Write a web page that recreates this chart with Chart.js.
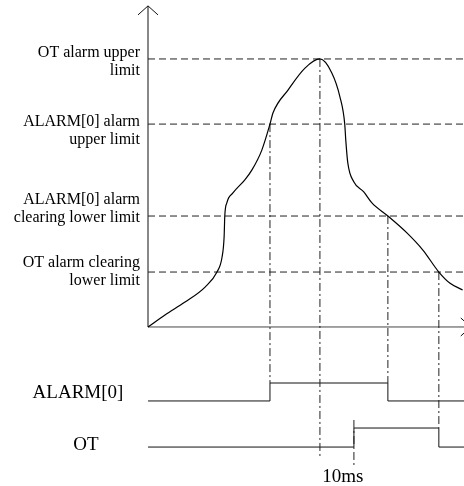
<!DOCTYPE html>
<html>
<head>
<meta charset="utf-8">
<script src="https://cdn.jsdelivr.net/npm/chart.js@4.4.0/dist/chart.umd.min.js"></script>
<style>
  html, body { margin: 0; padding: 0; background: #fff; }
  #wrap { width: 464px; height: 486px; }
</style>
</head>
<body>
<div id="wrap"><canvas id="timing" width="464" height="486"></canvas></div>
<script>
// Temperature curve, time in ms, value in arbitrary units (OT alarm upper limit = 100)
const curveTime = [0, 5, 10.9, 16.8, 20.3, 21.8, 22.4, 22.6, 23.2, 25, 28.5, 30.6, 33.5, 35.9, 36.8, 41.2, 46.2, 50.6,
                   54.1, 56.5, 57.9, 58.2, 58.8, 60.6, 63.5, 65.9, 70.6, 76.2, 80.9, 85.6, 88.8, 92.6];
const curveValue = [0, 4.5, 9.3, 14.9, 20.5, 26.1, 33.6, 41.4, 46.3, 50, 54.9, 58.6, 66, 75.7, 79.9, 88.4, 96.6, 100,
                    94.8, 85.8, 75.7, 69.8, 61.2, 54.1, 50.4, 46.3, 41.4, 35.1, 28.7, 20.5, 16.4, 13.8];

// Threshold levels and their labels
const levelValues = [100, 75.7, 41.4, 20.5];
const levelLabels = [
  ['OT alarm upper', 'limit'],
  ['ALARM[0] alarm', 'upper limit'],
  ['ALARM[0] alarm', 'clearing lower limit'],
  ['OT alarm clearing', 'lower limit']
];

// Event times (ms)
const alarmRise = 35.9;
const peakTime = 50.6;
const otRise = 60.6;
const alarmFall = 70.6;
const otFall = 85.6;

// Digital signal levels (drawn below the analog plot)
const alarmLevels = [-27.6, -20.9]; // low, high
const otLevels = [-44.8, -37.7];

// Signal step points
const alarmTimes = [0, alarmRise, alarmFall, 93];
const alarmStates = [0, 1, 0, 0];
const otTimes = [0, otRise, otFall, 93];
const otStates = [0, 1, 0, 0];

// Dash-dot guide lines: [time, top value, bottom value]
const guideTimes = [alarmRise, peakTime, alarmFall, otFall, otRise];
const guideTops = [75.7, 100, 41.4, 20.5, -34.7];
const guideBottoms = [-20.9, -48.5, -20.9, -37.7, -52.2];

const X_MIN = 0, X_MAX = 93;
const Y_MIN = -59.33, Y_MAX = 122.0;
const Y_AXIS_TOP = 119.8;
const X_AXIS_END = 95;

const ink = '#111';

function line(points, opts) {
  return Object.assign({
    data: points,
    borderColor: ink,
    borderWidth: 1,
    pointRadius: 0,
    fill: false,
    clip: false,
    tension: 0
  }, opts || {});
}

const datasets = [];

// Temperature curve
datasets.push(line(curveTime.map((t, i) => ({ x: t, y: curveValue[i] })), {
  borderColor: '#000', borderWidth: 1.2, cubicInterpolationMode: 'monotone'
}));

// Threshold dashed lines
levelValues.forEach(v => {
  datasets.push(line([{ x: X_MIN, y: v }, { x: X_MAX, y: v }], { borderDash: [7, 4], borderColor: '#222' }));
});

// Dash-dot guides
guideTimes.forEach((t, i) => {
  datasets.push(line([{ x: t, y: guideTops[i] }, { x: t, y: guideBottoms[i] }], { borderDash: [8, 3, 2, 3], borderColor: '#222' }));
});

// Axes with arrow heads
datasets.push(line([{ x: 0, y: 0 }, { x: 0, y: Y_AXIS_TOP }]));
datasets.push(line([{ x: -2.94, y: Y_AXIS_TOP - 3.36 }, { x: 0, y: Y_AXIS_TOP }, { x: 2.94, y: Y_AXIS_TOP - 3.36 }]));
datasets.push(line([{ x: 0, y: 0 }, { x: X_AXIS_END, y: 0 }], { borderColor: '#444' }));
datasets.push(line([{ x: X_AXIS_END - 2.94, y: 3.36 }, { x: X_AXIS_END, y: 0 }, { x: X_AXIS_END - 2.94, y: -3.36 }]));

// Digital signals
datasets.push(line(alarmTimes.map((t, i) => ({ x: t, y: alarmLevels[alarmStates[i]] })), { stepped: 'before' }));
datasets.push(line(otTimes.map((t, i) => ({ x: t, y: otLevels[otStates[i]] })), { stepped: 'before' }));

// Text labels drawn through the scales
const textPlugin = {
  id: 'timingText',
  afterDatasetsDraw(chart) {
    const ctx = chart.ctx;
    const xs = chart.scales.x, ys = chart.scales.y;
    const x0 = xs.getPixelForValue(0);
    const nudge = [3, 7, -7, 0];
    ctx.save();
    ctx.fillStyle = '#000';
    ctx.textBaseline = 'middle';
    ctx.font = '16px "Liberation Serif", "Times New Roman", serif';
    ctx.textAlign = 'right';
    levelValues.forEach((v, i) => {
      const cy = ys.getPixelForValue(v) + nudge[i];
      ctx.fillText(levelLabels[i][0], x0 - 8, cy - 9);
      ctx.fillText(levelLabels[i][1], x0 - 8, cy + 9);
    });
    ctx.font = '19px "Liberation Serif", "Times New Roman", serif';
    ctx.textAlign = 'center';
    ctx.fillText('ALARM[0]', x0 - 70, ys.getPixelForValue(alarmLevels[0]) - 8);
    ctx.fillText('OT', x0 - 62, ys.getPixelForValue(otLevels[0]) - 2);
    const midX = (xs.getPixelForValue(peakTime) + xs.getPixelForValue(otRise)) / 2;
    ctx.fillText('10ms', midX + 6, ys.getPixelForValue(-52.2) + 10);
    ctx.restore();
  }
};

new Chart(document.getElementById('timing'), {
  type: 'line',
  data: { datasets: datasets },
  options: {
    responsive: false,
    animation: false,
    layout: { padding: { left: 148, right: 0, top: 0, bottom: 0 } },
    plugins: { legend: { display: false }, tooltip: { enabled: false } },
    scales: {
      x: { type: 'linear', min: X_MIN, max: X_MAX, display: false },
      y: { type: 'linear', min: Y_MIN, max: Y_MAX, display: false }
    }
  },
  plugins: [textPlugin]
});
</script>
</body>
</html>
